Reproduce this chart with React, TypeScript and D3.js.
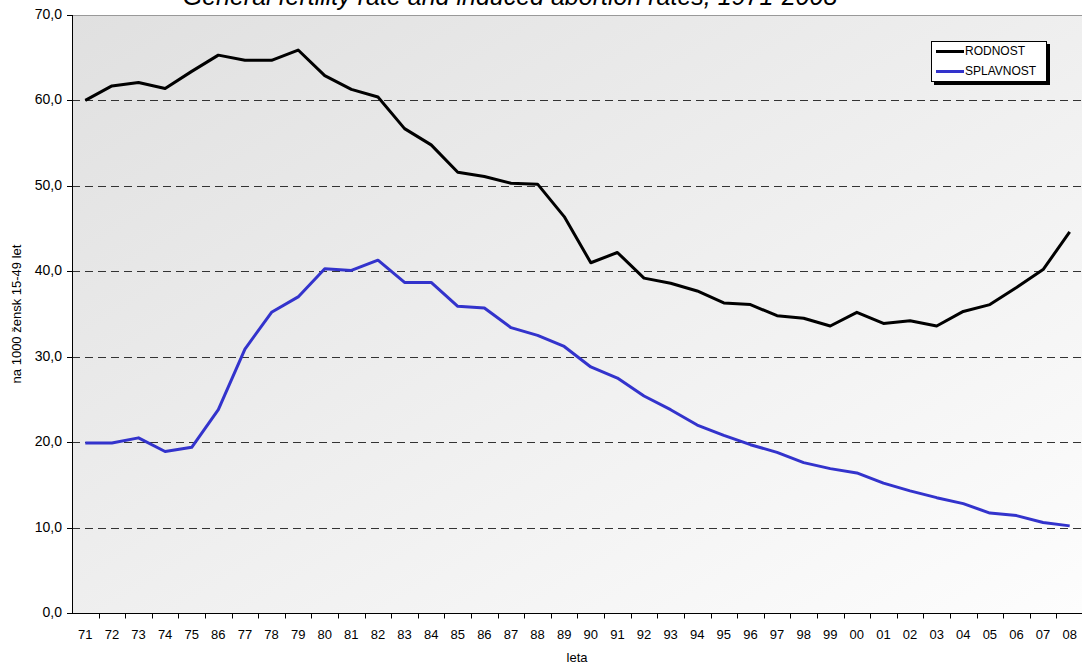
import React, { useEffect, useRef } from 'react';
import * as d3 from 'd3';

const years = ['71', '72', '73', '74', '75', '86', '77', '78', '79', '80', '81', '82', '83', '84', '85', '86', '87', '88', '89', '90',
    '91', '92', '93', '94', '95', '96', '97', '98', '99', '00', '01', '02', '03', '04', '05', '06', '07', '08'];

const rodnost = [60.0, 61.7, 62.1, 61.4, 63.4, 65.3, 64.7, 64.7, 65.9, 62.9, 61.3, 60.4, 56.7, 54.8, 51.6, 51.1, 50.3, 50.2, 46.4, 41.0,
    42.2, 39.2, 38.6, 37.7, 36.3, 36.1, 34.8, 34.5, 33.6, 35.2, 33.9, 34.2, 33.6, 35.3, 36.1, 38.1, 40.2, 44.6];

const splavnost = [19.9, 19.9, 20.5, 18.9, 19.4, 23.8, 30.9, 35.2, 37.0, 40.3, 40.1, 41.3, 38.7, 38.7, 35.9, 35.7, 33.4, 32.5, 31.2, 28.8,
    27.5, 25.4, 23.8, 22.0, 20.8, 19.7, 18.8, 17.6, 16.9, 16.4, 15.2, 14.3, 13.5, 12.8, 11.7, 11.4, 10.6, 10.2];

const yTicks = [0, 10, 20, 30, 40, 50, 60, 70];

const series = [
    { name: 'RODNOST', values: rodnost, color: '#000000' },
    { name: 'SPLAVNOST', values: splavnost, color: '#3333cc' },
];

const title = 'General fertility rate and induced abortion rates, 1971-2008';

const Chart = () => {
    const svgRef = useRef<SVGSVGElement>(null);

    useEffect(() => {
        // page reset so the svg sits at 0,0 with no scrollbars
        document.body.style.margin = '0';
        document.documentElement.style.overflow = 'hidden';

        const width = 1082;
        const height = 668;
        const font = '"Liberation Sans", Arial, sans-serif';
        const margin = { top: 15, right: 0, bottom: 55, left: 72 };

        const svg = d3.select(svgRef.current);
        svg.selectAll('*').remove();
        svg.attr('width', width).attr('height', height);

        const x = d3.scaleBand<number>()
            .domain(years.map((_, i) => i))
            .range([margin.left, width - margin.right + 1]);

        const y = d3.scaleLinear()
            .domain([0, 70])
            .range([height - margin.bottom, margin.top]);

        // Plot background
        const grad = svg.append('defs').append('linearGradient')
            .attr('id', 'bg')
            .attr('x1', '0%').attr('y1', '0%')
            .attr('x2', '100%').attr('y2', '100%');
        grad.append('stop').attr('offset', '0%').attr('stop-color', '#e0e0e0');
        grad.append('stop').attr('offset', '100%').attr('stop-color', '#fdfdfd');

        svg.append('rect')
            .attr('x', margin.left)
            .attr('y', margin.top)
            .attr('width', width - margin.left)
            .attr('height', y(0) - margin.top)
            .style('fill', 'url(#bg)');

        // Top border
        svg.append('line')
            .attr('x1', margin.left).attr('x2', width)
            .attr('y1', margin.top + 0.5).attr('y2', margin.top + 0.5)
            .style('stroke', '#999')
            .style('stroke-width', 1);

        // Grid lines
        yTicks.filter(t => t > 0 && t < 70).forEach(t => {
            svg.append('line')
                .attr('x1', margin.left).attr('x2', width)
                .attr('y1', Math.round(y(t)) + 0.5).attr('y2', Math.round(y(t)) + 0.5)
                .style('stroke', '#333')
                .style('stroke-width', 1)
                .style('stroke-dasharray', '8,5');
        });

        // Y axis
        const yAxis = svg.append('g');
        yAxis.append('line')
            .attr('x1', margin.left + 0.5).attr('x2', margin.left + 0.5)
            .attr('y1', margin.top).attr('y2', y(0))
            .style('stroke', '#000');
        yTicks.forEach(t => {
            const ty = Math.round(y(t)) + 0.5;
            yAxis.append('line')
                .attr('x1', margin.left - 5).attr('x2', margin.left)
                .attr('y1', ty).attr('y2', ty)
                .style('stroke', '#000');
            yAxis.append('text')
                .attr('x', margin.left - 10)
                .attr('y', ty)
                .attr('text-anchor', 'end')
                .attr('dominant-baseline', 'middle')
                .text(d3.format('.1f')(t).replace('.', ','))
                .style('font-family', font)
                .style('font-size', '14px')
                .style('fill', '#000');
        });

        // X axis
        const xAxis = svg.append('g');
        const baseY = Math.round(y(0)) + 0.5;
        xAxis.append('line')
            .attr('x1', margin.left).attr('x2', width)
            .attr('y1', baseY).attr('y2', baseY)
            .style('stroke', '#000');
        years.forEach((lab, i) => {
            const tx = Math.round(x(i)! + x.bandwidth()) + 0.5;
            xAxis.append('line')
                .attr('x1', tx).attr('x2', tx)
                .attr('y1', baseY).attr('y2', baseY + 5)
                .style('stroke', '#000');
            xAxis.append('text')
                .attr('x', x(i)! + x.bandwidth() / 2)
                .attr('y', baseY + 25)
                .attr('text-anchor', 'middle')
                .text(lab)
                .style('font-family', font)
                .style('font-size', '13px')
                .style('fill', '#000');
        });

        // Axis titles
        svg.append('text')
            .attr('x', (margin.left + width) / 2)
            .attr('y', 662)
            .attr('text-anchor', 'middle')
            .text('leta')
            .style('font-family', font)
            .style('font-size', '13px');

        svg.append('text')
            .attr('transform', `translate(21, ${(margin.top + y(0)) / 2}) rotate(-90)`)
            .attr('text-anchor', 'middle')
            .text('na 1000 žensk 15-49 let')
            .style('font-family', font)
            .style('font-size', '13px');

        // Title (cut at the top, as in the original)
        svg.append('text')
            .attr('x', 510)
            .attr('y', 5)
            .attr('text-anchor', 'middle')
            .text(title)
            .style('font-family', font)
            .style('font-style', 'italic')
            .style('font-size', '25px');

        // Lines
        const line = d3.line<number>()
            .x((_, i) => x(i)! + x.bandwidth() / 2)
            .y(d => y(d));

        series.forEach(s => {
            svg.append('path')
                .datum(s.values)
                .attr('d', line)
                .style('fill', 'none')
                .style('stroke', s.color)
                .style('stroke-width', 3)
                .style('stroke-linejoin', 'round');
        });

        // Legend
        const lg = svg.append('g').attr('transform', 'translate(931, 41)');
        lg.append('rect')
            .attr('x', 3).attr('y', 3)
            .attr('width', 116).attr('height', 41)
            .style('fill', '#000');
        lg.append('rect')
            .attr('x', 0.5).attr('y', 0.5)
            .attr('width', 115).attr('height', 40)
            .style('fill', '#fff')
            .style('stroke', '#000');
        series.forEach((s, i) => {
            const ly = 10.5 + i * 20;
            lg.append('line')
                .attr('x1', 5).attr('x2', 33)
                .attr('y1', ly).attr('y2', ly)
                .style('stroke', s.color)
                .style('stroke-width', 3);
            lg.append('text')
                .attr('x', 34)
                .attr('y', ly)
                .attr('dominant-baseline', 'middle')
                .text(s.name)
                .style('font-family', font)
                .style('font-size', '12px');
        });
    }, []);

    return <svg ref={svgRef} style={{ display: 'block' }}></svg>;
};

export default function App() {
    return <Chart />;
}
